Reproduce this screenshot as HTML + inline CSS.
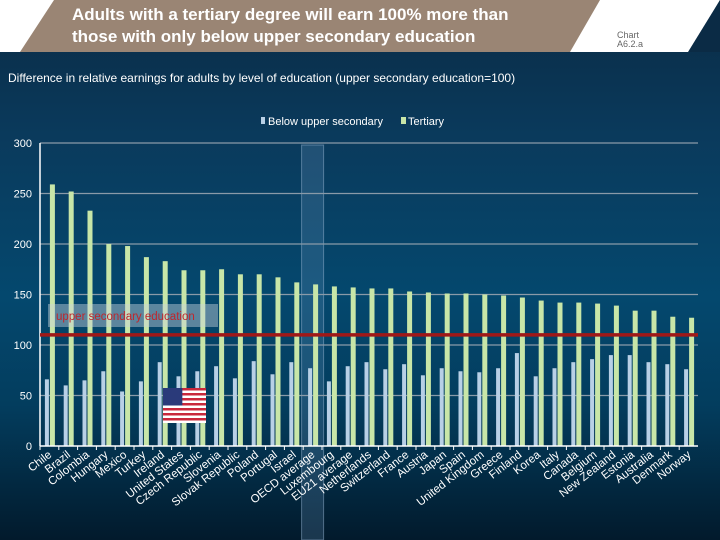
<!DOCTYPE html>
<html><head><meta charset="utf-8"><style>
body{margin:0;width:720px;height:540px;overflow:hidden;font-family:"Liberation Sans",sans-serif;}
#wrap{position:relative;width:720px;height:540px;background:linear-gradient(#0b2b45 0%,#0a3a5c 25%,#04486e 55%,#033d5e 75%,#021a2c 100%);}
</style></head><body>
<div id="wrap">
<svg width="720" height="540" style="position:absolute;left:0;top:0">
<polygon points="0,0 720,0 720,0 690,52 0,52" fill="#ffffff"/>
<polygon points="54,0 600,0 570,52 20,52" fill="#9a8574"/>
<polygon points="720,0 720,52 688,52 720,0" fill="#0b2b45"/>
<text x="72" y="20" fill="#fff" font-size="17" font-weight="bold">Adults with a tertiary degree will earn 100% more than</text>
<text x="72" y="42" fill="#fff" font-size="17" font-weight="bold">those with only below upper secondary education</text>
<text x="617" y="38" fill="#666" font-size="9">Chart</text>
<text x="617" y="47" fill="#666" font-size="9">A6.2.a</text>
<text x="8" y="82" fill="#fff" font-size="12">Difference in relative earnings for adults by level of education (upper secondary education=100)</text>
<rect x="261" y="117" width="4" height="7" fill="#b8d0e6"/>
<text x="268" y="125" fill="#fff" font-size="11">Below upper secondary</text>
<rect x="401" y="117" width="5" height="7" fill="#c8e6a8"/>
<text x="408" y="125" fill="#fff" font-size="11">Tertiary</text>
</svg>
<svg id="chart" width="720" height="540" style="position:absolute;left:0;top:0"></svg>
</div>
<script>
const categories=["Chile","Brazil","Colombia","Hungary","Mexico","Turkey","Ireland","United States","Czech Republic","Slovenia","Slovak Republic","Poland","Portugal","Israel","OECD average","Luxembourg","EU21 average","Netherlands","Switzerland","France","Austria","Japan","Spain","United Kingdom","Greece","Finland","Korea","Italy","Canada","Belgium","New Zealand","Estonia","Australia","Denmark","Norway"];
const belowValues=[66,60,65,74,54,64,83,69,74,79,67,84,71,83,77,64,79,83,76,81,70,77,74,73,77,92,69,77,83,86,90,90,83,81,76];
const tertiaryValues=[259,252,233,200,198,187,183,174,174,175,170,170,167,162,160,158,157,156,156,153,152,151,151,150,149,147,144,142,142,141,139,134,134,128,127];
const yTicks=[0,50,100,150,200,250,300];
const refValue=110;
const svg=document.getElementById('chart');const NS='http://www.w3.org/2000/svg';
const X0=40,X1=698,Y0=446,YT=143;
const y=v=>Y0-(v/300)*(Y0-YT);
const step=(X1-X0)/categories.length;
const cx=i=>X0+(i+0.5)*step;
function mk(t,a){const e=document.createElementNS(NS,t);for(const k in a)e.setAttribute(k,a[k]);svg.appendChild(e);return e;}
let oi=categories.indexOf("OECD average");
let hl=mk('rect',{x:cx(oi)-11,y:145,width:22,height:395,fill:'rgba(120,160,200,0.22)',stroke:'rgba(150,180,210,0.5)','stroke-width':1});


yTicks.forEach(t=>{
 if(t>0){const g=mk('line',{x1:X0,x2:X1,y1:y(t),y2:y(t),stroke:'#8a9aa8','stroke-width':1.2});
 
 }
 const tx=mk('text',{x:X0-8,y:y(t)+4,fill:'#fff','font-size':11,'text-anchor':'end'});tx.textContent=t;
 
 
});
categories.forEach((c,i)=>{
 const b=mk('rect',{x:cx(i)-4.5,y:y(belowValues[i]),width:4,height:Y0-y(belowValues[i]),fill:'#b8d0e6'});
 
 
 const t=mk('rect',{x:cx(i)+0.5,y:y(tertiaryValues[i]),width:5,height:Y0-y(tertiaryValues[i]),fill:'#c8e6a8'});
 
 
 const tk=mk('line',{x1:X0+i*step,x2:X0+i*step,y1:Y0,y2:Y0+4,stroke:'#fff','stroke-width':1});
 
 
 const l=mk('text',{x:0,y:0,fill:'#fff','font-size':11.5,'text-anchor':'end',transform:`translate(${cx(i)+3},${Y0+10}) rotate(-38)`});
 l.textContent=c;
 
 
});
const ax=mk('line',{x1:X0,x2:X0,y1:YT,y2:Y0,stroke:'#fff','stroke-width':1.5});


const xa=mk('line',{x1:X0,x2:X1,y1:Y0,y2:Y0,stroke:'#fff','stroke-width':1.5});


const lb=mk('rect',{x:48,y:304,width:170,height:23,fill:'rgba(200,210,220,0.45)'});


const lt=mk('text',{x:56,y:320,fill:'#c0262c','font-size':11.5});lt.textContent='upper secondary education';


const rl=mk('line',{x1:X0,x2:X1,y1:y(refValue),y2:y(refValue),stroke:'#a01818','stroke-width':3.5});


// flag
const fx=163,fy=388,fw=43,fh=35;
const fl=mk('g',{});


for(let s=0;s<7;s++){const r=document.createElementNS(NS,'rect');r.setAttribute('x',fx);r.setAttribute('y',fy+s*fh/7);r.setAttribute('width',fw);r.setAttribute('height',fh/14);r.setAttribute('fill','#c8283c');fl.appendChild(r);
 const w=document.createElementNS(NS,'rect');w.setAttribute('x',fx);w.setAttribute('y',fy+s*fh/7+fh/14);w.setAttribute('width',fw);w.setAttribute('height',fh/14);w.setAttribute('fill','#fff');fl.appendChild(w);}
const cn=document.createElementNS(NS,'rect');cn.setAttribute('x',fx);cn.setAttribute('y',fy);cn.setAttribute('width',fw*0.45);cn.setAttribute('height',fh*0.5);cn.setAttribute('fill','#2a3a7a');fl.appendChild(cn);
</script>
</body></html>
